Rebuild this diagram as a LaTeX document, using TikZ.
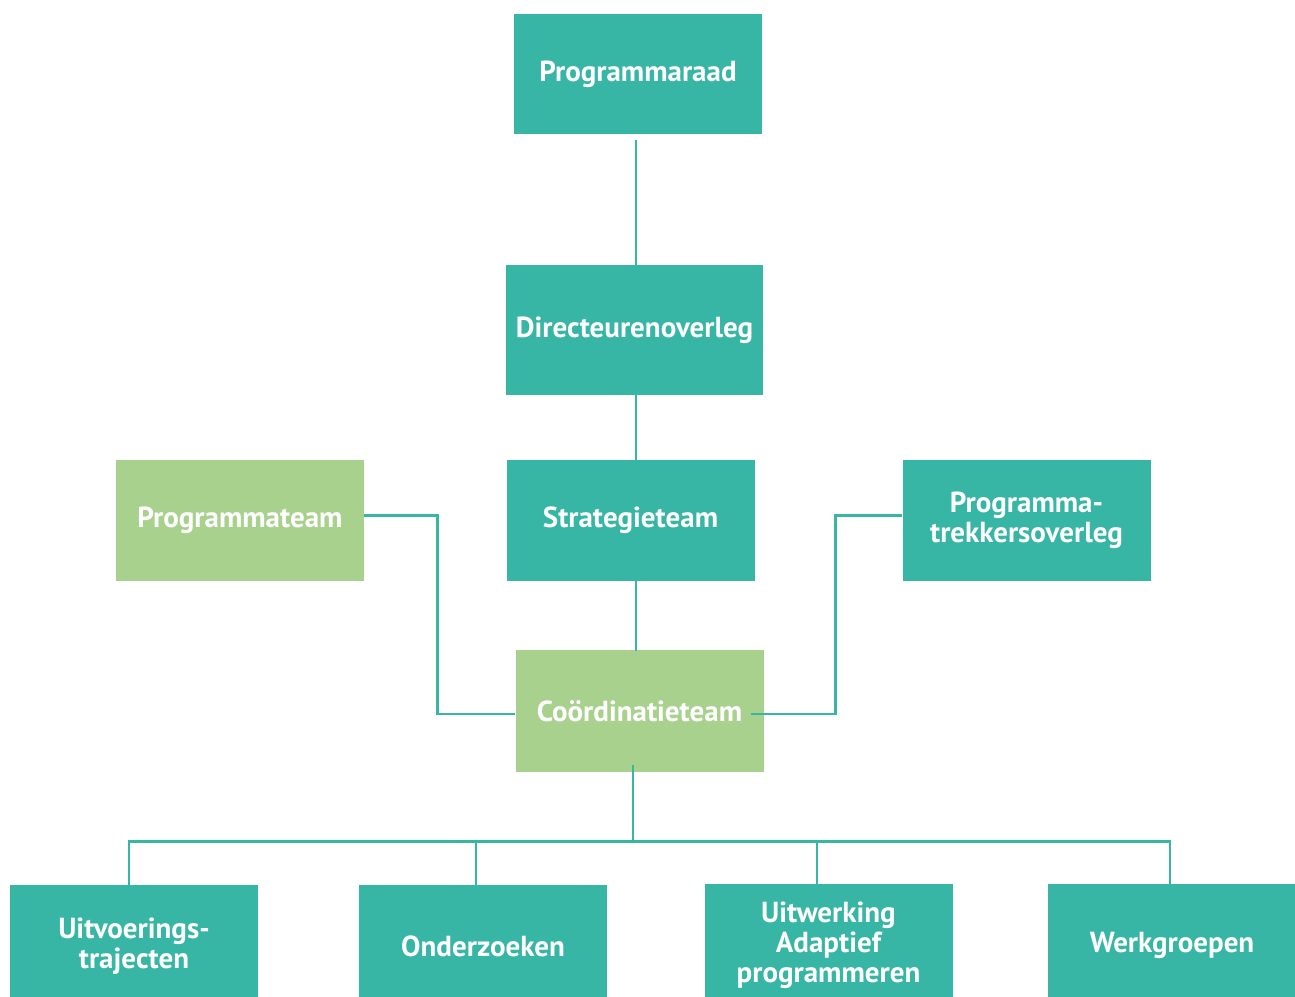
\documentclass[tikz,border=0pt]{standalone}
\usepackage{fontspec}
\setmainfont{PT Sans}
\definecolor{teal1}{HTML}{37B5A5}
\definecolor{green1}{HTML}{A9D18E}
\begin{document}
\begin{tikzpicture}[x=1pt,y=-1pt,
  box/.style={rectangle, inner sep=0pt, minimum width=248pt, minimum height=121pt,
    text=white, font=\fontsize{29}{30}\selectfont\bfseries, align=center},
  tealbox/.style={box, fill=teal1},
  greenbox/.style={box, fill=green1},
  conn/.style={draw=teal1, line width=2.6pt}]
\clip (0,0) rectangle (1295,996);
\fill[white] (0,0) rectangle (1295,996);
\node[tealbox, minimum height=120pt] (praad) at (638,74) {Programmaraad};
\node[tealbox, minimum width=257pt, minimum height=130pt] (dir) at (634.5,330) {Directeurenoverleg};
\node[tealbox] (strat) at (630.5,520.5) {Strategieteam};
\node[greenbox] (pteam) at (240,520.5) {Programmateam};
\node[tealbox] (trek) at (1026.5,520.5) {Programma-\\trekkersoverleg};
\node[greenbox, minimum height=122pt] (coord) at (639.5,711) {Coördinatieteam};
\node[tealbox, minimum height=122pt] (u1) at (134,946) {Uitvoerings-\\trajecten};
\node[tealbox, minimum height=122pt] (u2) at (483,946) {Onderzoeken};
\node[tealbox, minimum height=122pt] (u3) at (828.5,945) {Uitwerking\\Adaptief\\programmeren};
\node[tealbox, minimum height=122pt] (u4) at (1172,945) {Werkgroepen};
% connectors
\draw[conn] ([xshift=-2pt,yshift=-6pt]praad.south) -- ([xshift=1.5pt]dir.north);
\draw[conn] ([xshift=1.5pt]dir.south) -- ([xshift=5.5pt]strat.north);
\draw[conn] ([xshift=5.5pt]strat.south) -- ([xshift=-3.5pt,yshift=-1pt]coord.north);
\draw[conn] ([yshift=5pt]pteam.east) -- ++(73,0) |- ([yshift=-3pt]coord.west);
\draw[conn] ([yshift=5pt]trek.west) -- ++(-67,0) |- ([xshift=-13pt,yshift=-3pt]coord.east);
\draw[conn] ([xshift=-6.5pt,yshift=7pt]coord.south) -- ++(0,76) coordinate (hub);
\draw[conn] ([xshift=-5pt]u1.north) |- (hub) -| ([xshift=-2pt]u4.north);
\draw[conn] ([xshift=-7pt]u2.north) -- ([xshift=-7pt]u2.north |- hub);
\draw[conn] ([xshift=-11.5pt]u3.north) -- ([xshift=-11.5pt]u3.north |- hub);
\end{tikzpicture}
\end{document}
